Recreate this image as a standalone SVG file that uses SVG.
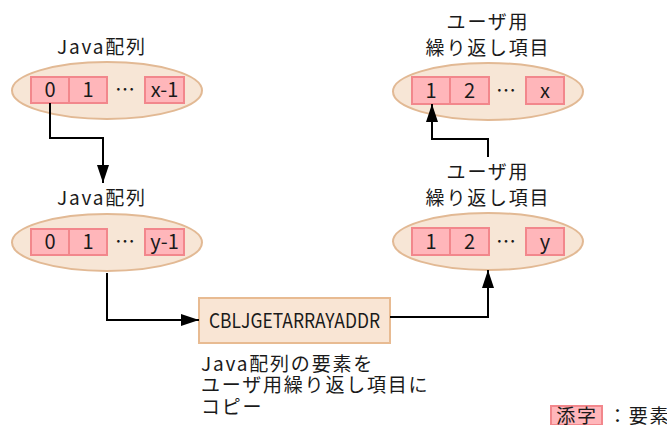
<svg xmlns="http://www.w3.org/2000/svg" width="667" height="425" viewBox="0 0 667 425">
<defs>
<style>
.ell{fill:#f7e6d6;stroke:#e2b994;stroke-width:2}
.cell{fill:#ffb6ba;stroke:#f2878c;stroke-width:2}
.box{fill:#f9e5d4;stroke:#e8bb92;stroke-width:2}
.t{font-family:"Noto Sans CJK JP","Noto Sans",sans-serif;font-size:19px;fill:#1a1a1a;letter-spacing:1.8px}
.m{text-anchor:middle}
.c{font-family:"Noto Sans CJK JP","Noto Sans",sans-serif;font-size:20px;fill:#1a1a1a;text-anchor:middle}
.ln{fill:none;stroke:#000;stroke-width:2}
</style>
<marker id="ah" markerWidth="18" markerHeight="12" refX="18" refY="6" orient="auto" markerUnits="userSpaceOnUse">
<path d="M0,0 L18,6 L0,12 Z" fill="#000"/>
</marker>
</defs>
<rect width="667" height="425" fill="#fff"/>

<g id="java1">
<text class="t m" x="102" y="54">Java配列</text>
<ellipse class="ell" cx="107" cy="90.5" rx="95" ry="28.5"/>
<rect class="cell" x="31" y="77" width="38" height="26"/>
<rect class="cell" x="69" y="77" width="38" height="26"/>
<rect class="cell" x="145" y="77" width="39" height="26"/>
<text class="c" x="50" y="97">0</text>
<text class="c" x="88" y="97">1</text>
<text class="c" x="125" y="97">…</text>
<text class="c" x="164.5" y="97">x-1</text>
</g>

<g id="java2">
<text class="t m" x="102" y="205">Java配列</text>
<ellipse class="ell" cx="107" cy="242.5" rx="95" ry="28.5"/>
<rect class="cell" x="31" y="229" width="38" height="26"/>
<rect class="cell" x="69" y="229" width="38" height="26"/>
<rect class="cell" x="145" y="229" width="39" height="26"/>
<text class="c" x="50" y="249">0</text>
<text class="c" x="88" y="249">1</text>
<text class="c" x="125" y="249">…</text>
<text class="c" x="164.5" y="249">y-1</text>
</g>

<g id="user1">
<text class="t m" x="488" y="29">ユーザ用</text>
<text class="t m" x="488" y="55">繰り返し項目</text>
<ellipse class="ell" cx="488" cy="91.5" rx="95" ry="28.5"/>
<rect class="cell" x="412" y="77" width="38" height="27"/>
<rect class="cell" x="450" y="77" width="39" height="27"/>
<rect class="cell" x="526" y="77" width="38" height="27"/>
<text class="c" x="431" y="97.5">1</text>
<text class="c" x="469.5" y="97.5">2</text>
<text class="c" x="506" y="97.5">…</text>
<text class="c" x="545" y="97.5">x</text>
</g>

<g id="user2">
<text class="t m" x="488" y="179">ユーザ用</text>
<text class="t m" x="488" y="205">繰り返し項目</text>
<ellipse class="ell" cx="488" cy="241.5" rx="95" ry="28.5"/>
<rect class="cell" x="412" y="228" width="38" height="27"/>
<rect class="cell" x="450" y="228" width="39" height="27"/>
<rect class="cell" x="526" y="228" width="38" height="27"/>
<text class="c" x="431" y="248.5">1</text>
<text class="c" x="469.5" y="248.5">2</text>
<text class="c" x="506" y="248.5">…</text>
<text class="c" x="545" y="248.5">y</text>
</g>

<g id="func">
<rect class="box" x="199" y="298" width="191" height="45"/>
<text class="c" x="294.5" y="328" textLength="171" lengthAdjust="spacingAndGlyphs">CBLJGETARRAYADDR</text>
<text class="t" x="201" y="371">Java配列の要素を</text>
<text class="t" x="201" y="392">ユーザ用繰り返し項目に</text>
<text class="t" x="201" y="414">コピー</text>
</g>

<g id="legend">
<rect class="cell" x="551" y="406" width="51" height="19"/>
<text class="t m" x="577" y="423">添字</text>
<text class="t" x="608" y="423">：要素</text>
</g>

<g id="connectors">
<path class="ln" d="M50,103 V138 H103 V183" marker-end="url(#ah)"/>
<path class="ln" d="M107,273 V320 H199" marker-end="url(#ah)"/>
<path class="ln" d="M390,317 H488 V270" marker-end="url(#ah)"/>
<path class="ln" d="M488,157 V139 H432 V104" marker-end="url(#ah)"/>
</g>
</svg>
